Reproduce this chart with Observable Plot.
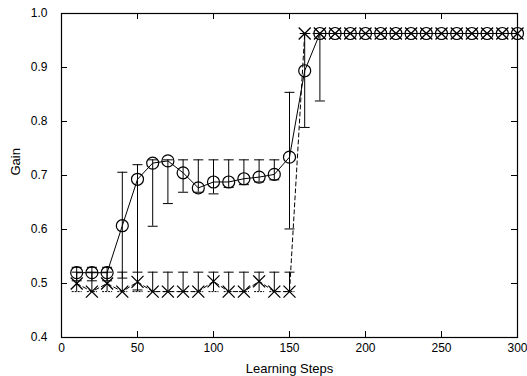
<!DOCTYPE html>
<html><head><meta charset="utf-8">
<script src="https://cdn.jsdelivr.net/npm/d3@7"></script>
<script src="https://cdn.jsdelivr.net/npm/@observablehq/plot@0.6"></script>
<style>body{margin:0;background:#fff}</style>
</head><body><div id="chart"></div>
<script>
// Data
const steps  = [10,20,30,40,50,60,70,80,90,100,110,120,130,140,150,160,170,180,190,200,210,220,230,240,250,260,270,280,290,300];
// Series A (circles, solid line)
const gainA  = [0.52,0.52,0.52,0.607,0.693,0.723,0.727,0.705,0.677,0.688,0.688,0.694,0.697,0.702,0.734,0.894,0.963,0.963,0.963,0.963,0.963,0.963,0.963,0.963,0.963,0.963,0.963,0.963,0.963,0.963];
const loA    = [0.505,0.505,0.505,0.51,0.488,0.606,0.648,0.669,0.669,0.666,0.678,0.683,0.688,0.692,0.601,0.789,0.838,0.963,0.963,0.963,0.963,0.963,0.963,0.963,0.963,0.963,0.963,0.963,0.963,0.963];
const hiA    = [0.53,0.53,0.53,0.706,0.72,0.729,0.729,0.729,0.729,0.729,0.729,0.729,0.729,0.729,0.854,0.963,0.963,0.963,0.963,0.963,0.963,0.963,0.963,0.963,0.963,0.963,0.963,0.963,0.963,0.963];
// Series B (crosses, dashed line)
const gainB  = [0.5,0.485,0.5,0.485,0.503,0.485,0.485,0.485,0.485,0.504,0.485,0.485,0.504,0.485,0.485,0.963,0.963,0.963,0.963,0.963,0.963,0.963,0.963,0.963,0.963,0.963,0.963,0.963,0.963,0.963];
const loB    = [0.485,0.485,0.485,0.485,0.485,0.485,0.485,0.485,0.485,0.485,0.485,0.485,0.485,0.485,0.485,0.963,0.963,0.963,0.963,0.963,0.963,0.963,0.963,0.963,0.963,0.963,0.963,0.963,0.963,0.963];
const hiB    = [0.521,0.521,0.521,0.521,0.521,0.521,0.521,0.521,0.521,0.521,0.521,0.521,0.521,0.521,0.521,0.963,0.963,0.963,0.963,0.963,0.963,0.963,0.963,0.963,0.963,0.963,0.963,0.963,0.963,0.963];
const xTicks = [0,50,100,150,200,250,300];
const yTicks = [0.4,0.5,0.6,0.7,0.8,0.9,1.0];
const xLabel = "Learning Steps";
const yLabel = "Gain";

const A = steps.map((s,i)=>({x:s, y:gainA[i], lo:loA[i], hi:hiA[i]}));
const B = steps.map((s,i)=>({x:s, y:gainB[i], lo:loB[i], hi:hiB[i]}));
const Aerr = A.filter(d=>d.hi>d.lo);
const Berr = B.filter(d=>d.hi>d.lo);

const capSymbol = {draw(ctx, size){const r=Math.sqrt(size/Math.PI); ctx.moveTo(-r,0); ctx.lineTo(r,0);}};
const crossSymbol = {draw(ctx, size){const r=Math.sqrt(size/Math.PI); ctx.moveTo(-r,-r); ctx.lineTo(r,r); ctx.moveTo(-r,r); ctx.lineTo(r,-r);}};

const W=527, H=376, mL=61, mR=10, mT=13, mB=39;
const pw = W-mL-mR, ph = H-mT-mB;

const chart = Plot.plot({
  width: W, height: H,
  marginLeft: mL, marginRight: mR, marginTop: mT, marginBottom: mB,
  style: {fontFamily: "'Liberation Sans', Arial, Helvetica, sans-serif", fontSize: "12px", color: "black", background: "white"},
  x: {domain: [0,300]},
  y: {domain: [0.4,1.0]},
  marks: [
    // error bars
    Plot.ruleX(Aerr, {x:"x", y1:"lo", y2:"hi", stroke:"black", strokeWidth:1}),
    Plot.dot(Aerr, {x:"x", y:"lo", symbol: capSymbol, r:5, stroke:"black", fill:"none", strokeWidth:1}),
    Plot.dot(Aerr, {x:"x", y:"hi", symbol: capSymbol, r:5, stroke:"black", fill:"none", strokeWidth:1}),
    Plot.ruleX(Berr, {x:"x", y1:"lo", y2:"hi", stroke:"black", strokeWidth:1}),
    Plot.dot(Berr, {x:"x", y:"lo", symbol: capSymbol, r:5, stroke:"black", fill:"none", strokeWidth:1, strokeDasharray:"2,1"}),
    Plot.dot(Berr, {x:"x", y:"hi", symbol: capSymbol, r:5, stroke:"black", fill:"none", strokeWidth:1}),
    // lines
    Plot.line(B, {x:"x", y:"y", stroke:"black", strokeWidth:1, strokeDasharray:"4,3"}),
    Plot.line(A, {x:"x", y:"y", stroke:"black", strokeWidth:1}),
    // markers
    Plot.dot(B, {x:"x", y:"y", symbol: crossSymbol, r:6, stroke:"black", fill:"none", strokeWidth:1.3}),
    Plot.dot(A, {x:"x", y:"y", r:6, stroke:"black", fill:"none", strokeWidth:1.2}),
    // frame and inward ticks
    Plot.frame({stroke:"black", strokeWidth:1.2}),
    Plot.ruleX(xTicks, {x:d=>d, insetTop: ph-6, stroke:"black"}),
    Plot.ruleX(xTicks, {x:d=>d, insetBottom: ph-6, stroke:"black"}),
    Plot.ruleY(yTicks, {y:d=>d, insetRight: pw-6, stroke:"black"}),
    Plot.ruleY(yTicks, {y:d=>d, insetLeft: pw-6, stroke:"black"}),
    // tick labels
    Plot.axisX({ticks: xTicks, tickSize: 0, tickPadding: 6, label: null, tickFormat: d3.format("d"), fill:"black"}),
    Plot.axisY({ticks: yTicks, tickSize: 0, tickPadding: 14, label: null, tickFormat: d3.format(".1f"), fill:"black"}),
    // axis titles
    Plot.text([xLabel], {text:d=>d, frameAnchor:"bottom", dy: 31, lineAnchor:"middle", fontSize: 13, fill:"black"}),
    Plot.text([yLabel], {text:d=>d, frameAnchor:"left", dx: -46, rotate:-90, lineAnchor:"middle", fontSize: 13, fill:"black"})
  ]
});
document.getElementById("chart").appendChild(chart);
</script>
</body></html>
